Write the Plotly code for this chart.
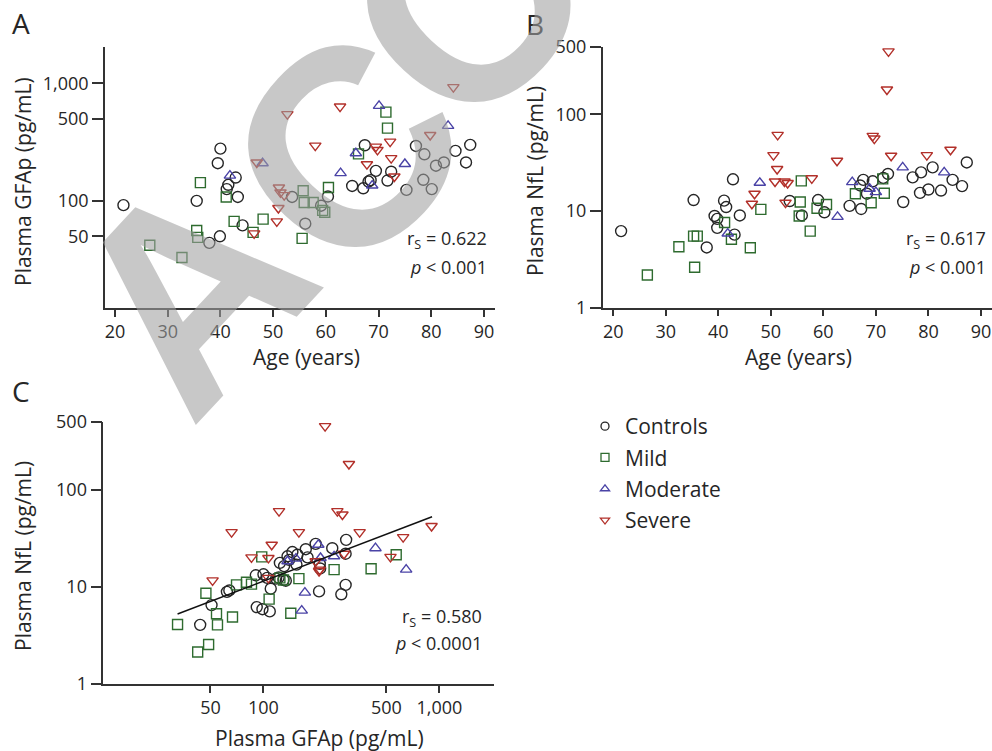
import plotly.graph_objects as go

W, H = 992, 751

# ---------------- data ----------------
groups = ["Controls", "Mild", "Moderate", "Severe"]

# Panel A: age vs plasma GFAp
A_ctrl_age = [21.6, 35.5, 37.9, 39.9, 39.5, 40.0, 41.2, 41.5, 42.9, 43.3, 44.2, 53.6, 56.1, 59.1, 60.4, 65.0, 67.1,
              67.4, 68.1, 68.5, 69.5, 71.7, 72.4, 75.3, 77.1, 78.5, 78.7, 80.1, 80.9, 82.4, 84.6, 86.6, 87.4]
A_ctrl_gfap = [92, 100, 44, 50, 209, 278, 126, 137, 158, 108, 62, 108, 64, 91, 109, 134, 128,
               297, 146, 150, 180, 149, 177, 124, 293, 151, 249, 126, 199, 212, 266, 212, 299]
A_mild_age = [26.6, 32.7, 35.5, 35.7, 36.2, 41.1, 42.6, 46.2, 48.1, 55.5, 55.7, 55.9, 57.6, 59.4, 59.8, 60.5,
              66.2, 71.4, 71.7]
A_mild_gfap = [42, 33, 56, 49, 143, 108, 67, 54, 70, 48, 122, 97, 97, 83, 80, 130, 251, 568, 415]
A_mod_age = [41.8, 48.0, 62.8, 65.7, 68.8, 70.1, 75.0, 83.2]
A_mod_gfap = [164, 209, 172, 254, 135, 641, 206, 434]
A_sev_age = [46.4, 46.9, 50.7, 51.0, 51.1, 51.4, 52.1, 52.7, 58.0, 62.7, 67.8, 69.5, 69.8, 72.2, 72.4, 73.0,
             79.8, 84.2]
A_sev_gfap = [53, 212, 67, 87, 130, 118, 112, 546, 295, 633, 205, 289, 271, 319, 231, 161, 363, 925]

# Panel B: age vs plasma NfL
B_ctrl_age = [21.5, 35.3, 37.8, 39.3, 39.8, 39.8, 41.1, 41.5, 42.8, 43.1, 44.1, 53.6, 55.9, 59.0, 60.2, 65.0,
              67.2, 67.0, 67.6, 68.3, 69.4, 71.4, 72.3, 75.2, 77.0, 78.6, 78.4, 80.0, 80.8, 82.4, 84.6, 86.4, 87.3]
B_ctrl_nfl = [6.2, 13.0, 4.2, 8.9, 8.3, 6.7, 12.8, 11.0, 21.3, 5.7, 9.0, 12.7, 9.0, 13.0, 9.7, 11.3,
              10.5, 18.4, 21.0, 15.1, 20.3, 22.0, 24.2, 12.4, 22.3, 25.1, 15.4, 16.7, 28.3, 16.3, 21.0, 18.1, 31.8]
B_mild_age = [26.5, 32.5, 35.3, 36.0, 35.5, 41.2, 42.5, 46.1, 48.1, 55.8, 55.6, 55.4, 57.5, 58.8, 60.6, 66.1,
              69.1, 71.3, 71.6]
B_mild_nfl = [2.18, 4.27, 5.5, 5.5, 2.62, 7.6, 5.1, 4.17, 10.4, 20.5, 12.4, 8.9, 6.2, 10.7, 11.7, 15.1,
              12.2, 21.5, 15.3]
B_mod_age = [41.8, 47.9, 62.7, 65.5, 68.8, 70.0, 75.1, 83.0]
B_mod_nfl = [5.85, 19.6, 8.7, 19.9, 17.0, 15.7, 28.3, 25.1]
B_sev_age = [46.4, 46.9, 50.5, 50.8, 51.2, 51.3, 52.6, 52.8, 53.2, 57.8, 62.6, 69.4, 69.7, 72.1, 72.4, 72.9,
             79.7, 84.2]
B_sev_nfl = [11.9, 15.1, 37.9, 20.2, 27.2, 61.4, 20.2, 12.2, 19.5, 21.8, 33.1, 59.9, 56.2, 180.7, 448, 37.3,
             37.9, 43.0]

# Panel C: plasma GFAp vs plasma NfL
C_ctrl_gfap = [43.7, 50.7, 62, 64, 91.6, 98.7, 108.6, 110, 90.5, 100, 105, 122, 130, 134, 124, 137, 146, 156,
               174, 178, 198, 209, 207, 246, 277, 293, 295, 293, 154, 131, 140, 210, 118]
C_ctrl_nfl = [4.07, 6.5, 8.9, 9.2, 6.2, 5.9, 5.6, 9.6, 13.2, 13.5, 12.4, 12.5, 11.8, 11.6, 17.7, 20.7, 22.9, 21.5,
              24.5, 20.2, 27.8, 17.3, 9.0, 25.1, 8.4, 10.5, 30.6, 22.0, 17.0, 16.4, 19.0, 15.5, 12.2]
C_mild_gfap = [32.5, 42.3, 48.8, 47.1, 54.1, 54.8, 66.7, 70.3, 80.1, 85.5, 97.8, 107.7, 124, 130, 143, 159,
               252, 409, 568]
C_mild_nfl = [4.1, 2.14, 2.55, 8.6, 5.3, 4.07, 4.9, 10.5, 11.2, 10.7, 20.4, 7.5, 12.4, 11.8, 5.35, 12.2,
              15.1, 15.4, 21.5]
C_mod_gfap = [165, 172, 137, 153, 205, 211, 252, 433, 647]
C_mod_nfl = [5.7, 8.75, 18.4, 19.6, 27.2, 19.9, 20.7, 25.1, 15.1]
C_sev_gfap = [51.4, 65.9, 85.5, 106.7, 111.4, 106.7, 122.6, 159, 224, 207, 198, 209, 263, 281, 306, 287, 352,
              527, 622, 902]
C_sev_nfl = [11.7, 36.7, 20.2, 19.9, 27.2, 12.4, 60.4, 36.7, 454, 14.6, 18.4, 15.1, 60.4, 55.8, 185, 22.0, 36.7,
             20.4, 32.6, 42.5]

# regression line in panel C (end points)
fit_gfap = [32.5, 908]
fit_nfl = [5.27, 52.9]

stats_text = ["r<sub>S</sub> = 0.622", "r<sub>S</sub> = 0.617", "r<sub>S</sub> = 0.580"]
p_text = ["<i>p</i> < 0.001", "<i>p</i> < 0.001", "<i>p</i> < 0.0001"]

age_ticks = [20, 30, 40, 50, 60, 70, 80, 90]
gfap_ticks = [50, 100, 500, 1000]
gfap_ticktext = ["50", "100", "500", "1,000"]
nfl_ticks = [1, 10, 100, 500]
nfl_ticktext = ["1", "10", "100", "500"]

# ---------------- style ----------------
FONT = "Open Sans"
TXT = "#262626"
AX = "#333333"
colors = {"Controls": "#262626", "Mild": "#2e6b2f", "Moderate": "#4a43a6", "Severe": "#b2302a"}
symbols = {"Controls": "circle-open", "Mild": "square-open", "Moderate": "triangle-up-open",
           "Severe": "triangle-down-open"}
sizes = {"Controls": 11, "Mild": 10, "Moderate": 10, "Severe": 10}

def px_x(x):
    return x / W

def px_y(y):
    return 1 - y / H

fig = go.Figure()

panels = {
    "A": (("x", "y"), [(A_ctrl_age, A_ctrl_gfap), (A_mild_age, A_mild_gfap), (A_mod_age, A_mod_gfap),
                       (A_sev_age, A_sev_gfap)]),
    "B": (("x2", "y2"), [(B_ctrl_age, B_ctrl_nfl), (B_mild_age, B_mild_nfl), (B_mod_age, B_mod_nfl),
                         (B_sev_age, B_sev_nfl)]),
    "C": (("x3", "y3"), [(C_ctrl_gfap, C_ctrl_nfl), (C_mild_gfap, C_mild_nfl), (C_mod_gfap, C_mod_nfl),
                         (C_sev_gfap, C_sev_nfl)]),
}

for pname, ((xa, ya), series) in panels.items():
    for g, (xs, ys) in zip(groups, series):
        fig.add_trace(go.Scatter(
            x=xs, y=ys, mode="markers", xaxis=xa, yaxis=ya, name=g, showlegend=False,
            marker=dict(symbol=symbols[g], size=sizes[g], color=colors[g], line=dict(width=1.4, color=colors[g])),
            hoverinfo="skip"))

fig.add_trace(go.Scatter(x=fit_gfap, y=fit_nfl, mode="lines", xaxis="x3", yaxis="y3", showlegend=False,
                         line=dict(color="#111111", width=1.5), hoverinfo="skip"))

# legend entries (no data, legend only)
for g in groups:
    fig.add_trace(go.Scatter(x=[None], y=[None], mode="markers", xaxis="x3", yaxis="y3", name=g,
                             legendgroup=g,
                             marker=dict(symbol=symbols[g], size=8, color=colors[g],
                                         line=dict(width=1.3, color=colors[g]))))

def axis(domain, anchor, rng, ttype="linear", tickvals=None, ticktext=None, ticklen=7):
    d = dict(domain=domain, anchor=anchor, range=rng, type=ttype, showgrid=False, zeroline=False,
             showline=True, linecolor=AX, linewidth=1.5, ticks="outside", ticklen=ticklen, tickwidth=1.5,
             tickcolor=AX, tickfont=dict(family=FONT, size=18, color=TXT), mirror=False, fixedrange=True,
             automargin=False)
    if tickvals is not None:
        d["tickmode"] = "array"
        d["tickvals"] = tickvals
        d["ticktext"] = ticktext if ticktext is not None else [str(v) for v in tickvals]
    return d

gfap_rng = [1.09, 3.31]
nfl_rng = [0.0, 2.70]

fig.update_layout(
    template="none",
    width=W, height=H, margin=dict(l=0, r=0, t=0, b=0, pad=0, autoexpand=False),
    paper_bgcolor="white", plot_bgcolor="white",
    font=dict(family=FONT, color=TXT),
    xaxis=axis([px_x(105), px_x(495)], "y", [18.1, 92.1], tickvals=age_ticks),
    yaxis=axis([px_y(308), px_y(46.7)], "x", gfap_rng, "log", gfap_ticks, gfap_ticktext, ticklen=11),
    xaxis2=axis([px_x(602.7), 1.0], "y2", [18.0, 92.1], tickvals=age_ticks),
    yaxis2=axis([px_y(307.7), px_y(46.7)], "x2", nfl_rng, "log", nfl_ticks, nfl_ticktext, ticklen=11),
    xaxis3=axis([px_x(103.3), px_x(494)], "y3", gfap_rng, "log", gfap_ticks, gfap_ticktext),
    yaxis3=axis([px_y(684), px_y(422)], "x3", nfl_rng, "log", nfl_ticks, nfl_ticktext, ticklen=11),
    legend=dict(x=px_x(585), y=px_y(406), xanchor="left", yanchor="top", bgcolor="rgba(0,0,0,0)",
                borderwidth=0, font=dict(family=FONT, size=21, color=TXT), itemsizing="trace",
                tracegroupgap=1, traceorder="grouped"),
)

ann = []
def text(x, y, s, size, xanchor="center", yanchor="middle", angle=0):
    ann.append(dict(x=px_x(x), y=px_y(y), xref="paper", yref="paper", text=s, showarrow=False,
                    xanchor=xanchor, yanchor=yanchor, textangle=angle,
                    font=dict(family=FONT, size=size, color=TXT)))

# panel letters
text(20.5, 23, "A", 28)
text(535, 24, "B", 28)
text(21, 391, "C", 28)
# axis titles
text(306, 357, "Age (years)", 21)
text(23, 182, "Plasma GFAp (pg/mL)", 21, angle=-90)
text(798, 357, "Age (years)", 21)
text(535, 181, "Plasma NfL (pg/mL)", 21, angle=-90)
text(319, 738, "Plasma GFAp (pg/mL)", 21)
text(23, 556, "Plasma NfL (pg/mL)", 21, angle=-90)
# stats
text(489, 240, stats_text[0], 18, xanchor="right")
text(489, 267, p_text[0], 18, xanchor="right")
text(988, 240, stats_text[1], 18, xanchor="right")
text(988, 267, p_text[1], 18, xanchor="right")
text(484, 617, stats_text[2], 18, xanchor="right")
text(484, 643, p_text[2], 18, xanchor="right")

# watermark ("ACC..." of a rotated ACCEPTED stamp), one letter at a time
wm_letters = ["A", "C", "C"]
wm_centers = [(189, 290), (346, 150), (465, 5)]
for ch, (cx, cy) in zip(wm_letters, wm_centers):
    ann.append(dict(x=px_x(cx), y=px_y(cy), xref="paper", yref="paper", text="<b>" + ch + "</b>",
                    showarrow=False, xanchor="center", yanchor="middle", textangle=-47,
                    font=dict(family="Liberation Sans", size=280, color="rgba(160,160,160,0.58)")))

fig.update_layout(annotations=ann)

fig.write_html("out.html", config={"displayModeBar": False},
               post_script="document.body.style.margin='0px';")
